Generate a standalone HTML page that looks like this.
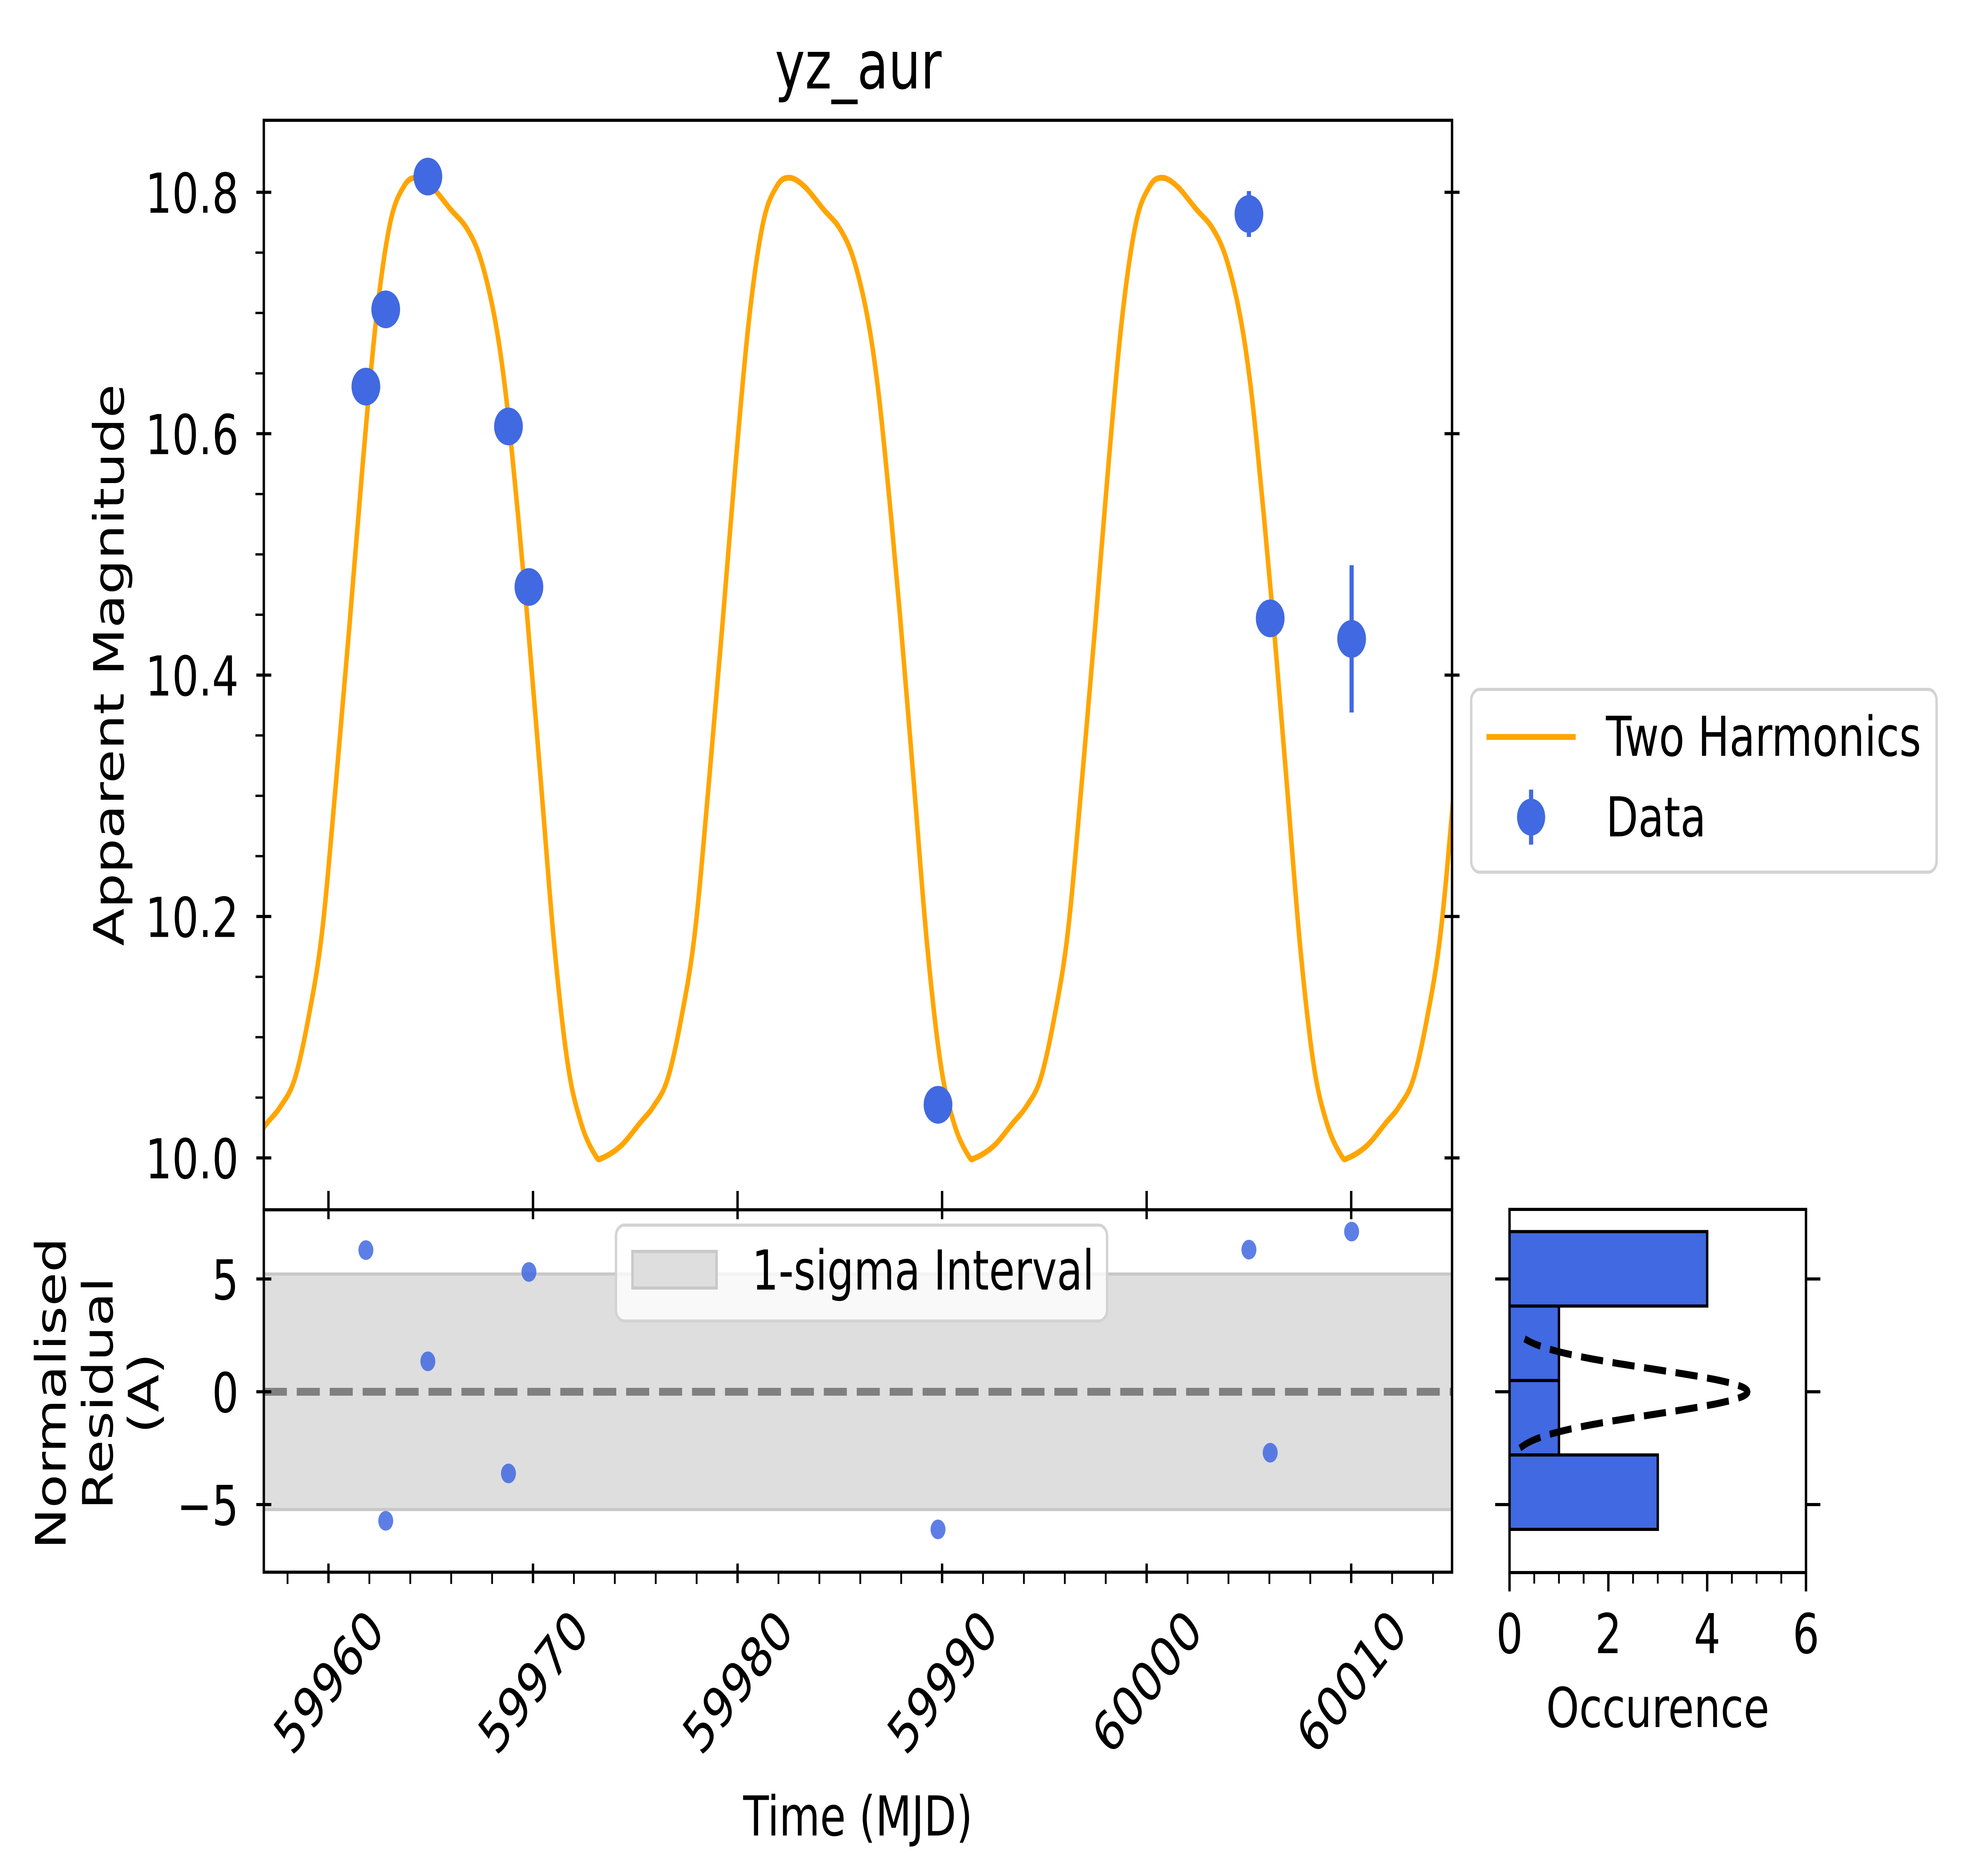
<!DOCTYPE html>
<html><head><meta charset="utf-8"><style>
html,body{margin:0;padding:0;background:#fff;width:100%;height:100%;overflow:hidden;}
svg{display:block;position:absolute;left:0;top:0;width:100vw;height:100vh;}
text{font-family:"DejaVu Sans","Liberation Sans",sans-serif;fill:#000;}
</style></head><body>
<svg id="fig" xmlns="http://www.w3.org/2000/svg" viewBox="0 0 6562 4773" preserveAspectRatio="none">
<rect x="0" y="0" width="6562" height="4773" fill="#fff"/>
<defs><clipPath id="mainclip"><rect x="881" y="306" width="3968" height="2772"/></clipPath>
<clipPath id="resclip"><rect x="881" y="3078" width="3968" height="922"/></clipPath></defs>
<text x="2866" y="225" font-size="170" text-anchor="middle">yz_aur</text>
<text transform="translate(413,1692) rotate(-90)" font-size="140" text-anchor="middle">Apparent Magnitude</text>
<text transform="translate(219,3545) rotate(-90)" font-size="140" text-anchor="middle">Normalised</text>
<text transform="translate(376,3545) rotate(-90)" font-size="140" text-anchor="middle">Residual</text>
<text transform="translate(529,3545) rotate(-90)" font-size="140" text-anchor="middle">(A)</text>
<text x="2865" y="4670" font-size="140" text-anchor="middle">Time (MJD)</text>
<text x="5536" y="4394" font-size="140" text-anchor="middle">Occurence</text>
<g id="g-main"></g>
<g id="g-res"></g>
<g id="g-hist"></g>
<g id="g-leg">
<rect x="4913" y="1754" width="1554" height="465" rx="28" fill="#fff" fill-opacity="0.8" stroke="#d3d3d3" stroke-width="8"/>
<line x1="4964" y1="1875" x2="5262" y2="1875" stroke="#FFA500" stroke-width="15"/>
<text x="5363" y="1923" font-size="140">Two Harmonics</text>
<line x1="5113" y1="2009" x2="5113" y2="2149" stroke="#4169E1" stroke-width="14"/>
<circle cx="5113" cy="2079" r="47" fill="#4169E1"/>
<text x="5363" y="2128" font-size="140">Data</text>
</g>
</svg>
<script>
// ---- data ----
const templatePhase=[0,0.909,1.845,2.514,3.183,3.851,4.520,5.188,5.857,6.525,7.194,7.863,8.531,9.133,9.869,10.805,11.607,12.275,12.944,13.479,14.014,14.549,15.217,15.886,16.555,17.223,17.892];
const templateMag=[10.000,10.010,10.029,10.043,10.065,10.115,10.186,10.307,10.439,10.577,10.698,10.775,10.805,10.812,10.805,10.786,10.770,10.745,10.698,10.637,10.549,10.450,10.313,10.175,10.076,10.027,10.002];
const modelPeriod=18.23;
const modelEpoch=59955.16;
const dataTime=[59961.83,59962.80,59964.86,59968.80,59969.80,59989.80,60005.00,60006.04,60010.02];
const dataMag=[10.639,10.703,10.813,10.606,10.473,10.044,10.782,10.447,10.430];
const dataErr=[0.005,0.005,0.005,0.005,0.005,0.005,0.019,0.005,0.061];
const residual=[6.28,-5.72,1.35,-3.62,5.31,-6.10,6.30,-2.70,7.10];
const sigmaBand=[-5.22,5.22];
const xTicks=[59960,59970,59980,59990,60000,60010];
const yTicks=[10.0,10.2,10.4,10.6,10.8];
const yTickLabels=["10.0","10.2","10.4","10.6","10.8"];
const rTicks=[-5,0,5];
const rTickLabels=["\u22125","0","5"];
const hTicks=[0,2,4,6];
const histBins=4;
const gaussAmp=4.82;
const gaussSigma=1.0;
const gaussRange=[-2.5,2.35];

// ---- axes ----
const X0=881,X1=4849,T0=59956.84,T1=60014.93;
const xs=t=>X0+(t-T0)/(T1-T0)*(X1-X0);
const ys=m=>2946-(m-10)*3071;
const rs=r=>3541-r*57.4;
const HX0=5041,HX1=6031,HY0=3077,HY1=4001;
const hs=c=>HX0+c*(HX1-HX0)/6;
const NS="http://www.w3.org/2000/svg";
function mk(parent,tag,attrs){const e=document.createElementNS(NS,tag);for(const k in attrs)e.setAttribute(k,attrs[k]);parent.appendChild(e);return e;}
const gM=document.getElementById('g-main'),gR=document.getElementById('g-res'),gH=document.getElementById('g-hist');

// ---- model curve ----
let pts=[];
for(let k=0;k<5;k++){for(let i=0;i<templatePhase.length;i++){const t=modelEpoch+k*modelPeriod+templatePhase[i];if(t>T0-3&&t<T1+3)pts.push([xs(t),ys(templateMag[i])]);}}
let d="M"+pts[0][0]+","+pts[0][1];
for(let i=0;i<pts.length-1;i++){const p0=pts[Math.max(0,i-1)],p1=pts[i],p2=pts[i+1],p3=pts[Math.min(pts.length-1,i+2)];
const c1=[p1[0]+(p2[0]-p0[0])/6,p1[1]+(p2[1]-p0[1])/6],c2=[p2[0]-(p3[0]-p1[0])/6,p2[1]-(p3[1]-p1[1])/6];
d+=" C"+c1[0].toFixed(1)+","+c1[1].toFixed(1)+" "+c2[0].toFixed(1)+","+c2[1].toFixed(1)+" "+p2[0].toFixed(1)+","+p2[1].toFixed(1);}
const curve=mk(gM,'path',{d:d,fill:'none',stroke:'#FFA500','stroke-width':15,'clip-path':'url(#mainclip)'});



// ---- data points ----
for(let i=0;i<dataTime.length;i++){
const eb=mk(gM,'line',{x1:xs(dataTime[i]),x2:xs(dataTime[i]),y1:ys(dataMag[i]-dataErr[i]),y2:ys(dataMag[i]+dataErr[i]),stroke:'#4169E1','stroke-width':14});


const c=mk(gM,'circle',{cx:xs(dataTime[i]),cy:ys(dataMag[i]),r:48,fill:'#4169E1'});


}
// main frame & ticks
const mf=mk(gM,'rect',{x:X0,y:306,width:X1-X0,height:2772,fill:'none',stroke:'#000','stroke-width':8});


for(let i=0;i<yTicks.length;i++){const y=ys(yTicks[i]);
const tl=mk(gM,'line',{x1:X0-25,x2:X0+25,y1:y,y2:y,stroke:'#000','stroke-width':8});


const tr=mk(gM,'line',{x1:X1-25,x2:X1+25,y1:y,y2:y,stroke:'#000','stroke-width':8});


const lb=mk(gM,'text',{x:797,y:y+52,'font-size':140,'text-anchor':'end'});lb.textContent=yTickLabels[i];

}
for(let m=9.96;m<10.86;m+=0.05){const mm=Math.round(m*20)/20;if(Math.abs(mm*5-Math.round(mm*5))<1e-6||mm<9.96)continue;const y=ys(mm);
const t=mk(gM,'line',{x1:X0-28,x2:X0,y1:y,y2:y,stroke:'#000','stroke-width':6});

}
xTicks.forEach(v=>{const x=xs(v);const t=mk(gM,'line',{x1:x,x2:x,y1:3030,y2:3102,stroke:'#000','stroke-width':8});

});

// ---- residual panel ----
const band=mk(gR,'rect',{x:X0,y:rs(sigmaBand[1]),width:X1-X0,height:rs(sigmaBand[0])-rs(sigmaBand[1]),fill:'#dedede',stroke:'#c8c8c8','stroke-width':8,'clip-path':'url(#resclip)'});


const zl=mk(gR,'line',{x1:X0,x2:X1,y1:rs(0),y2:rs(0),stroke:'#808080','stroke-width':20,'stroke-dasharray':'77 33'});


for(let i=0;i<residual.length;i++){const c=mk(gR,'circle',{cx:xs(dataTime[i]),cy:rs(residual[i]),r:25,fill:'#4169E1','fill-opacity':0.85});

}
const rf=mk(gR,'rect',{x:X0,y:3078,width:X1-X0,height:922,fill:'none',stroke:'#000','stroke-width':8});


for(let i=0;i<rTicks.length;i++){const y=rs(rTicks[i]);
const t=mk(gR,'line',{x1:X0-25,x2:X0+25,y1:y,y2:y,stroke:'#000','stroke-width':8});


const lb=mk(gR,'text',{x:797,y:y+52,'font-size':140,'text-anchor':'end'});lb.textContent=rTickLabels[i];

}
xTicks.forEach(v=>{const x=xs(v);
const t=mk(gR,'line',{x1:x,x2:x,y1:3978,y2:4028,stroke:'#000','stroke-width':8});


const lb=mk(gR,'text',{x:x,y:4278,'font-size':140,'text-anchor':'middle',dy:'0.36em',transform:'rotate(-45 '+x+' 4278)'});lb.textContent=String(v);

});
for(let v=59958;v<60015;v+=2){if(v%10===0)continue;const x=xs(v);if(x<X0)continue;
const t=mk(gR,'line',{x1:x,x2:x,y1:4000,y2:4030,stroke:'#000','stroke-width':6});

}
// sigma legend
const sl=mk(gR,'rect',{x:2057,y:3117,width:1640,height:244,rx:28,fill:'#fff','fill-opacity':0.8,stroke:'#d3d3d3','stroke-width':8});


const sp=mk(gR,'rect',{x:2112,y:3184,width:281,height:93,fill:'#dedede',stroke:'#c8c8c8','stroke-width':8});


const st=mk(gR,'text',{x:2511,y:3281,'font-size':140});st.textContent='1-sigma Interval';



// ---- histogram ----
const rmin=Math.min(...residual),rmax=Math.max(...residual),bw=(rmax-rmin)/histBins;
const counts=new Array(histBins).fill(0);
residual.forEach(r=>{let b=Math.floor((r-rmin)/bw);if(b>=histBins)b=histBins-1;counts[b]++;});
for(let b=0;b<histBins;b++){const lo=rmin+b*bw,hi=lo+bw;
const r=mk(gH,'rect',{x:hs(0),y:rs(hi),width:hs(counts[b])-hs(0),height:rs(lo)-rs(hi),fill:'#4169E1',stroke:'#000','stroke-width':8});

}
let gd="";for(let r=gaussRange[0];r<=gaussRange[1]+1e-9;r+=0.05){const c=gaussAmp*Math.exp(-r*r/(2*gaussSigma*gaussSigma));gd+=(gd?" L":"M")+hs(c).toFixed(1)+","+rs(r).toFixed(1);}
const gp=mk(gH,'path',{d:gd,fill:'none',stroke:'#000','stroke-width':18,'stroke-dasharray':'74 32'});


const hf=mk(gH,'rect',{x:HX0,y:HY0,width:HX1-HX0,height:HY1-HY0,fill:'none',stroke:'#000','stroke-width':8});


rTicks.forEach(v=>{const y=rs(v);
const a=mk(gH,'line',{x1:HX0-48,x2:HX0,y1:y,y2:y,stroke:'#000','stroke-width':8});


const b=mk(gH,'line',{x1:HX1,x2:HX1+48,y1:y,y2:y,stroke:'#000','stroke-width':8});

});
hTicks.forEach(v=>{const x=hs(v);
const t=mk(gH,'line',{x1:x,x2:x,y1:HY1,y2:HY1+48,stroke:'#000','stroke-width':8});


const lb=mk(gH,'text',{x:x,y:4206,'font-size':140,'text-anchor':'middle'});lb.textContent=String(v);

});
for(let v=0.5;v<6;v+=0.5){if(v%2===0)continue;const x=hs(v);
const t=mk(gH,'line',{x1:x,x2:x,y1:HY1,y2:HY1+28,stroke:'#000','stroke-width':6});

}
</script>
</body></html>
